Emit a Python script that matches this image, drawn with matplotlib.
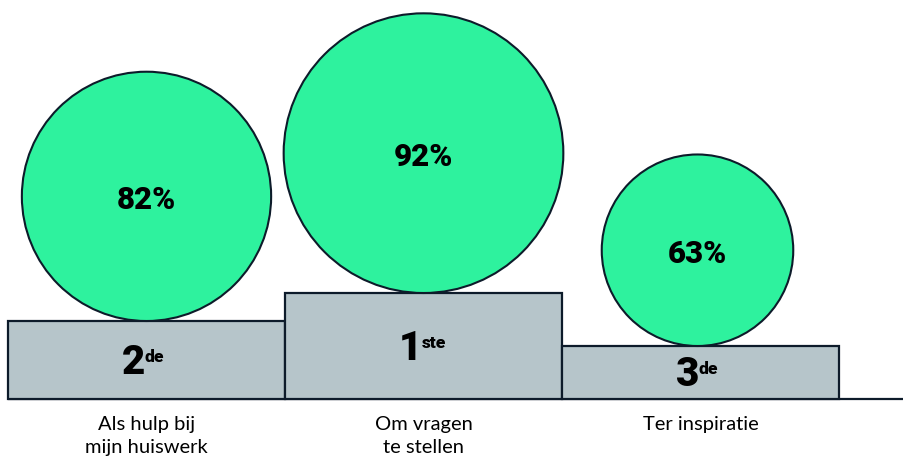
import matplotlib
matplotlib.use("Agg")
import matplotlib.pyplot as plt
from matplotlib.patches import Rectangle, Circle

# Data
categories = ["Als hulp bij\nmijn huiswerk", "Om vragen\nte stellen", "Ter inspiratie"]
values = [82, 92, 63]
rank_numbers = ["2", "1", "3"]
rank_suffix = ["de", "ste", "de"]

# Layout / style (pixel coordinates)
W, H = 904, 461
baseline = 399
block_left = [8, 285, 562]
block_width = 277
podium_height = [78, 106, 53]
radius_scale = 1.52
circle_dx = [0, 0, -3]

green = "#2ef29e"
grey = "#b6c5ca"
edge = "#0d1b2a"

plt.rcParams['font.family'] = ['Lato', 'DejaVu Sans']
heavy = ['Roboto', 'DejaVu Sans']

fig = plt.figure(figsize=(W / 100, H / 100), dpi=100)
ax = fig.add_axes([0, 0, 1, 1])
ax.set_xlim(0, W)
ax.set_ylim(H, 0)
ax.set_aspect('equal')
ax.axis('off')

# baseline
ax.plot([8, W], [baseline, baseline], color=edge, lw=1.6, solid_capstyle='butt', zorder=1)

for i, v in enumerate(values):
    x0 = block_left[i]
    top = baseline - podium_height[i]
    cx = x0 + block_width / 2
    ax.add_patch(Rectangle((x0, top), block_width, podium_height[i],
                           facecolor=grey, edgecolor=edge, lw=1.6, zorder=2))
    r = radius_scale * v
    ccx = cx + circle_dx[i]
    cy = top - r
    ax.add_patch(Circle((ccx, cy), r, facecolor=green, edgecolor=edge, lw=1.5, zorder=3))
    ax.text(ccx, cy + 4, f"{v}%", ha='center', va='center', fontsize=22.5,
            fontweight='black', family=heavy, color='black', zorder=4)

    # rank text
    mid = top + podium_height[i] / 2
    nb = mid + 14
    ax.text(cx - 1, nb, rank_numbers[i], ha='right', va='baseline', fontsize=29,
            fontweight='black', family=heavy, color='black', zorder=4)
    ax.text(cx - 2, nb - 12, rank_suffix[i], ha='left', va='baseline', fontsize=12.5,
            fontweight='black', family=heavy, color='black', zorder=4)

    # category label
    ax.text(cx, 416, categories[i], ha='center', va='top', fontsize=14.5,
            color='black', linespacing=1.4, zorder=4)

fig.savefig("out.png", dpi=100)
